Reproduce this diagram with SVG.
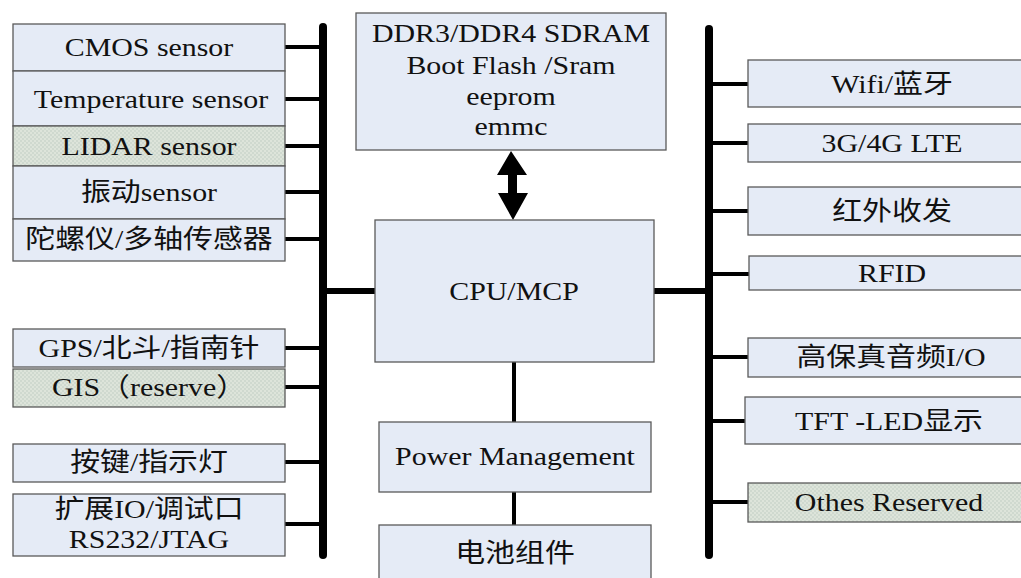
<svg xmlns="http://www.w3.org/2000/svg" width="1021" height="578" viewBox="0 0 1021 578">
<defs>
<pattern id="dots" width="4" height="4" patternUnits="userSpaceOnUse">
<rect width="4" height="4" fill="#dde4da"/>
<rect width="2" height="2" fill="#cfd9cf"/>
<rect x="2" y="2" width="2" height="2" fill="#cfd9cf"/>
</pattern>
</defs>
<style>
.b{fill:#e5ebf6;stroke:#5a5a5a;stroke-width:1.3}
.g{fill:url(#dots);stroke:#5a5a5a;stroke-width:1.3}
.t{font-family:"Liberation Serif","Noto Sans CJK SC",serif;font-size:26px;fill:#111;text-anchor:middle}
.bus{stroke:#000;stroke-width:8;stroke-linecap:round;fill:none}
.c{stroke:#000;stroke-width:4;fill:none}
.m{stroke:#000;stroke-width:6;stroke-linecap:round;fill:none}
</style>
<rect width="1021" height="578" fill="#fff"/>
<g id="connectors">
<line class="bus" x1="323" y1="27" x2="323" y2="555"/>
<line class="bus" x1="709" y1="29" x2="709" y2="555"/>
<line class="c" x1="284" y1="47" x2="323" y2="47"/>
<line class="c" x1="284" y1="99" x2="323" y2="99"/>
<line class="c" x1="284" y1="146" x2="323" y2="146"/>
<line class="c" x1="284" y1="192" x2="323" y2="192"/>
<line class="c" x1="284" y1="239" x2="323" y2="239"/>
<line class="c" x1="284" y1="348" x2="323" y2="348"/>
<line class="c" x1="284" y1="387" x2="323" y2="387"/>
<line class="c" x1="284" y1="462" x2="323" y2="462"/>
<line class="c" x1="284" y1="524" x2="323" y2="524"/>
<line class="m" x1="323" y1="291" x2="375" y2="291"/>
<line class="m" x1="654" y1="291" x2="709" y2="291"/>
<line class="c" x1="709" y1="84" x2="748" y2="84"/>
<line class="c" x1="709" y1="143" x2="748" y2="143"/>
<line class="c" x1="709" y1="211" x2="748" y2="211"/>
<line class="c" x1="709" y1="274" x2="749" y2="274"/>
<line class="c" x1="709" y1="357" x2="748" y2="357"/>
<line class="c" x1="709" y1="421" x2="745" y2="421"/>
<line class="c" x1="709" y1="502" x2="748" y2="502"/>
<line class="c" x1="514" y1="362" x2="514" y2="422"/>
<line class="c" x1="514" y1="492" x2="514" y2="525"/>
<polygon points="511,151 527,175 517,175 517,193 528,193 513,220 498,193 508,193 508,175 497,175" fill="#000"/>
</g>
<g id="cmos"><rect class="b" x="13" y="24" width="272" height="47"/><text class="t" transform="translate(149,56) scale(1.15,1)">CMOS sensor</text></g>
<g id="temperature"><rect class="b" x="13" y="71" width="272" height="55"/><text class="t" transform="translate(151,108) scale(1.15,1)">Temperature sensor</text></g>
<g id="lidar"><rect class="g" x="13" y="126" width="272" height="40"/><text class="t" transform="translate(149,155) scale(1.15,1)">LIDAR sensor</text></g>
<g id="vibration"><rect class="b" x="13" y="166" width="272" height="53"/><text class="t" transform="translate(149,201) scale(1.15,1)">振动sensor</text></g>
<g id="gyro"><rect class="b" x="13" y="219" width="272" height="42"/><text class="t" transform="translate(149,248) scale(1.15,1)">陀螺仪/多轴传感器</text></g>
<g id="gps"><rect class="b" x="13" y="329" width="272" height="38"/><text class="t" transform="translate(149,357) scale(1.15,1)">GPS/北斗/指南针</text></g>
<g id="gis"><rect class="g" x="13" y="369" width="272" height="38"/><text class="t" transform="translate(149,396) scale(1.15,1)">GIS（reserve）</text></g>
<g id="keys"><rect class="b" x="13" y="444" width="272" height="38"/><text class="t" transform="translate(149,471) scale(1.15,1)">按键/指示灯</text></g>
<g id="debug"><rect class="b" x="13" y="494" width="272" height="62"/><text class="t" transform="translate(149,518) scale(1.15,1)">扩展IO/调试口</text><text class="t" transform="translate(149,548) scale(1.15,1)">RS232/JTAG</text></g>
<g id="memory"><rect class="b" x="356" y="13" width="310" height="137"/>
<text class="t" transform="translate(511,42) scale(1.15,1)">DDR3/DDR4 SDRAM</text>
<text class="t" transform="translate(511,74) scale(1.15,1)">Boot Flash /Sram</text>
<text class="t" transform="translate(511,105) scale(1.15,1)">eeprom</text>
<text class="t" transform="translate(511,135) scale(1.15,1)">emmc</text></g>
<g id="cpu"><rect class="b" x="375" y="220" width="279" height="142"/><text class="t" transform="translate(514,300) scale(1.15,1)">CPU/MCP</text></g>
<g id="power"><rect class="b" x="379" y="422" width="272" height="70"/><text class="t" transform="translate(515,465) scale(1.15,1)">Power Management</text></g>
<g id="battery"><rect class="b" x="379" y="525" width="272" height="60"/><text class="t" transform="translate(515,562) scale(1.15,1)">电池组件</text></g>
<g id="wifi"><rect class="b" x="748" y="60" width="290" height="47"/><text class="t" transform="translate(892,93) scale(1.15,1)">Wifi/蓝牙</text></g>
<g id="lte"><rect class="b" x="748" y="124" width="290" height="38"/><text class="t" transform="translate(892,152) scale(1.15,1)">3G/4G LTE</text></g>
<g id="ir"><rect class="b" x="748" y="187" width="290" height="48"/><text class="t" transform="translate(892,220) scale(1.15,1)">红外收发</text></g>
<g id="rfid"><rect class="b" x="749" y="256" width="290" height="34"/><text class="t" transform="translate(892,282) scale(1.15,1)">RFID</text></g>
<g id="audio"><rect class="b" x="748" y="338" width="290" height="39"/><text class="t" transform="translate(891,366) scale(1.15,1)">高保真音频I/O</text></g>
<g id="tft"><rect class="b" x="745" y="397" width="290" height="47"/><text class="t" transform="translate(889,430) scale(1.15,1)">TFT -LED显示</text></g>
<g id="others"><rect class="g" x="748" y="483" width="290" height="39"/><text class="t" transform="translate(889,511) scale(1.15,1)">Othes Reserved</text></g>
</svg>
